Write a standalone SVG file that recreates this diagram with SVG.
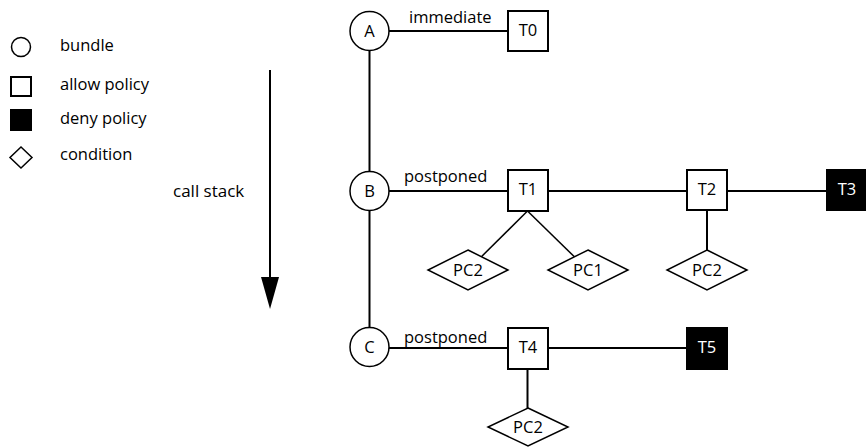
<svg xmlns="http://www.w3.org/2000/svg" width="866" height="447" viewBox="0 0 866 447">
<style>
text{font-family:"Open Sans","Noto Sans",sans-serif;font-size:16.5px;fill:#000}
.c{text-anchor:middle}
.w{fill:#fff}
.circ{fill:#fff;stroke:#000;stroke-width:1.5}
.box{fill:#fff;stroke:#000;stroke-width:2}
.deny{fill:#000;stroke:#000;stroke-width:2}
.dia{fill:#fff;stroke:#000;stroke-width:1.5}
.ln{stroke:#000;stroke-width:2;fill:none}
.thin{stroke:#000;stroke-width:1.5;fill:none}
</style>
<g id="legend">
<circle class="circ" cx="21" cy="47" r="9.5"/>
<text x="60" y="51">bundle</text>
<rect class="box" x="11" y="77" width="20" height="19"/>
<text x="60" y="90">allow policy</text>
<rect class="deny" x="11" y="110" width="20" height="20"/>
<text x="60" y="124">deny policy</text>
<path class="dia" d="M21 147 L32 157.5 L21 168 L10 157.5 Z"/>
<text x="60" y="160">condition</text>
</g>
<g id="callstack">
<line class="ln" x1="270" y1="70" x2="270" y2="280"/>
<path d="M261 277 L279 277 L270 309 Z" fill="#000"/>
<text x="173" y="197" style="font-size:17px">call stack</text>
</g>
<g id="connectors">
<line class="ln" x1="369.5" y1="31" x2="369.5" y2="347"/>
<line class="ln" x1="369.5" y1="31" x2="508" y2="31"/>
<line class="ln" x1="369.5" y1="191" x2="827" y2="191"/>
<line class="ln" x1="369.5" y1="348" x2="688" y2="348"/>
<line class="thin" x1="527.5" y1="211" x2="481.4" y2="256.7"/>
<line class="thin" x1="527.5" y1="211" x2="574.4" y2="256.8"/>
<line class="ln" x1="707" y1="210" x2="707" y2="250"/>
<line class="ln" x1="527.5" y1="369" x2="527.5" y2="409"/>
<text x="409" y="23">immediate</text>
<text x="404" y="182">postponed</text>
<text x="404" y="343">postponed</text>
</g>
<g id="A"><circle class="circ" cx="369.5" cy="31" r="19.5"/><text class="c" x="369.5" y="37">A</text></g>
<g id="B"><circle class="circ" cx="369.5" cy="191" r="19.5"/><text class="c" x="369.5" y="197">B</text></g>
<g id="C"><circle class="circ" cx="369.5" cy="347" r="19.5"/><text class="c" x="369.5" y="353">C</text></g>
<g id="T0"><rect class="box" x="508" y="11" width="40" height="40"/><text class="c" x="528" y="36">T0</text></g>
<g id="T1"><rect class="box" x="508" y="170" width="40" height="41"/><text class="c" x="528" y="195">T1</text></g>
<g id="T2"><rect class="box" x="687" y="170" width="40" height="40"/><text class="c" x="707" y="195">T2</text></g>
<g id="T3"><rect class="deny" x="827" y="170" width="42" height="40"/><text class="c w" x="847" y="195">T3</text></g>
<g id="T4"><rect class="box" x="508" y="328" width="40" height="41"/><text class="c" x="528" y="353">T4</text></g>
<g id="T5"><rect class="deny" x="687" y="328" width="40" height="41"/><text class="c w" x="707" y="353">T5</text></g>
<g id="PC2a"><path class="dia" d="M468 250 L508 270 L468 290 L428 270 Z"/><text class="c" x="468" y="276">PC2</text></g>
<g id="PC1"><path class="dia" d="M588 250 L628 270 L588 290 L548 270 Z"/><text class="c" x="588" y="276">PC1</text></g>
<g id="PC2b"><path class="dia" d="M707 250 L747 270 L707 290 L667 270 Z"/><text class="c" x="707" y="276">PC2</text></g>
<g id="PC2c"><path class="dia" d="M528 408 L568 427 L528 446 L488 427 Z"/><text class="c" x="528" y="433">PC2</text></g>
</svg>
